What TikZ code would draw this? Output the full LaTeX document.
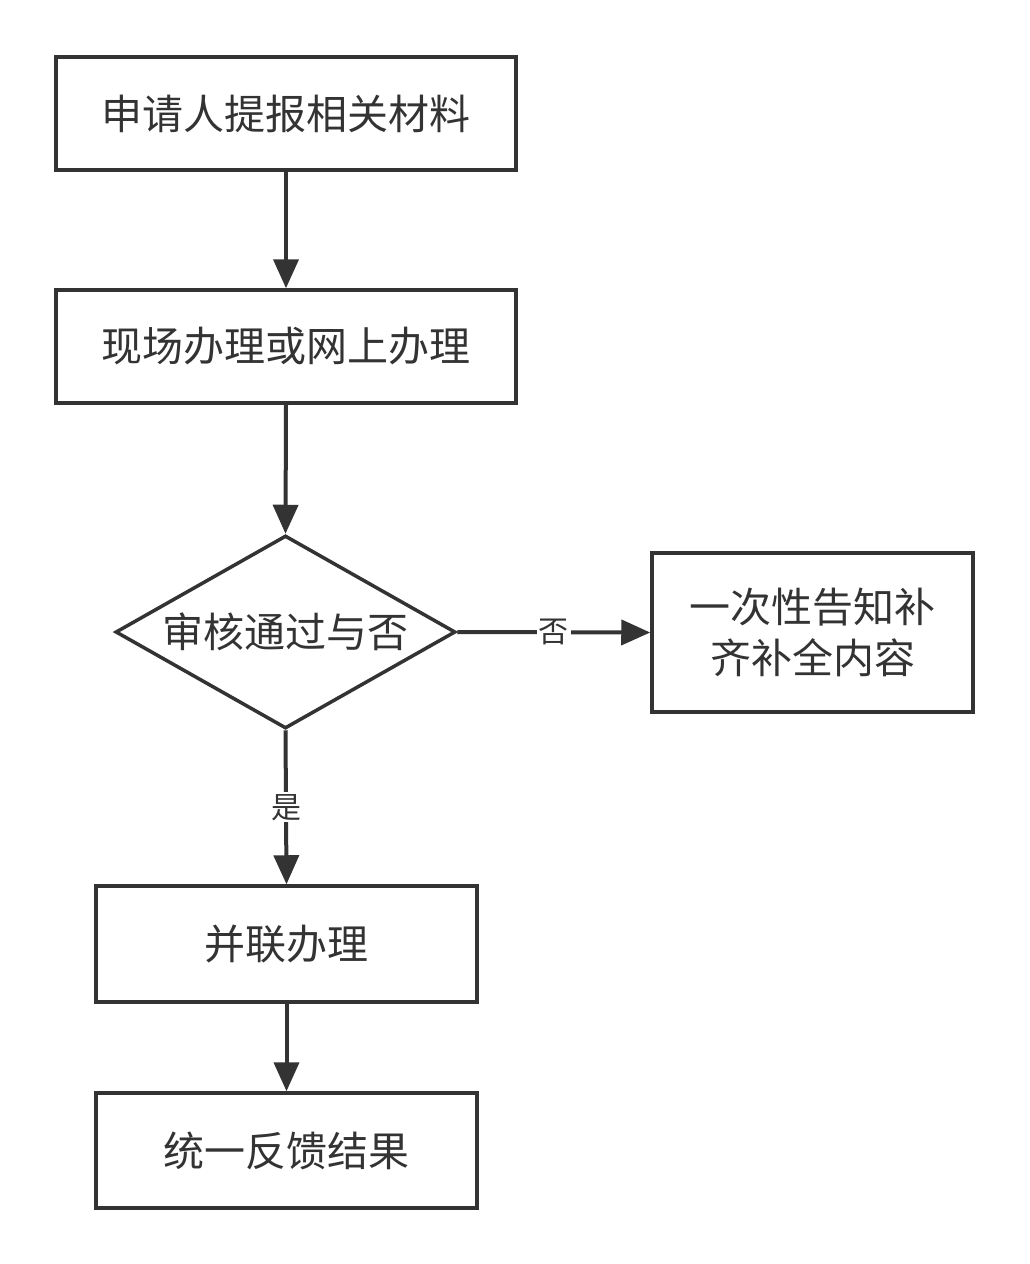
\documentclass[tikz,border=0pt]{standalone}
\usepackage{fontspec}
\newfontfamily\cjk{Noto Sans CJK SC}
\usetikzlibrary{arrows.meta,shapes.geometric}
\definecolor{ink}{HTML}{333333}
\begin{document}
\begin{tikzpicture}[x=1pt,y=-1pt,
  box/.style={draw=ink,line width=3.5pt,fill=white,rectangle,inner sep=0pt,
    font=\cjk\fontsize{41}{51}\selectfont,text=ink,align=center},
  dec/.style={draw=ink,line width=3.5pt,fill=white,diamond,inner sep=0pt,
    minimum width=340pt,minimum height=193pt,shape aspect=1.76},
  txt/.style={font=\cjk\fontsize{41}{51}\selectfont,text=ink,inner sep=0pt},
  conn/.style={draw=ink,line width=4pt,-{Triangle[length=29pt,width=25pt]}},
  lbl/.style={fill=white,font=\cjk\fontsize{30}{31}\selectfont,text=ink,inner sep=2pt}]
\useasboundingbox (0,0) rectangle (1030,1264);
\fill[white] (0,0) rectangle (1030,1264);

\node[box,minimum width=460pt,minimum height=113pt] (b1) at (286,113.5) {申请人提报相关材料};
\node[box,minimum width=460pt,minimum height=113pt] (b2) at (286,346.5) {现场办理或网上办理};
\node[dec,label={[txt]center:审核通过与否}] (d) at (285.5,632) {};
\node[box,minimum width=321pt,minimum height=159pt] (r) at (812.5,632.5) {一次性告知补\\齐补全内容};
\node[box,minimum width=381pt,minimum height=116pt] (b4) at (286.5,944) {并联办理};
\node[box,minimum width=381pt,minimum height=115pt] (b5) at (286.5,1150.5) {统一反馈结果};

\draw[conn] (b1.south) -- (b2.north);
\draw[conn] (b2.south) -- (d.north);
\draw[conn] (d.east) -- node[lbl] {否} (r.west);
\draw[conn] (d.south) -- node[lbl] {是} (b4.north);
\draw[conn] (b4.south) -- (b5.north);
\end{tikzpicture}
\end{document}
